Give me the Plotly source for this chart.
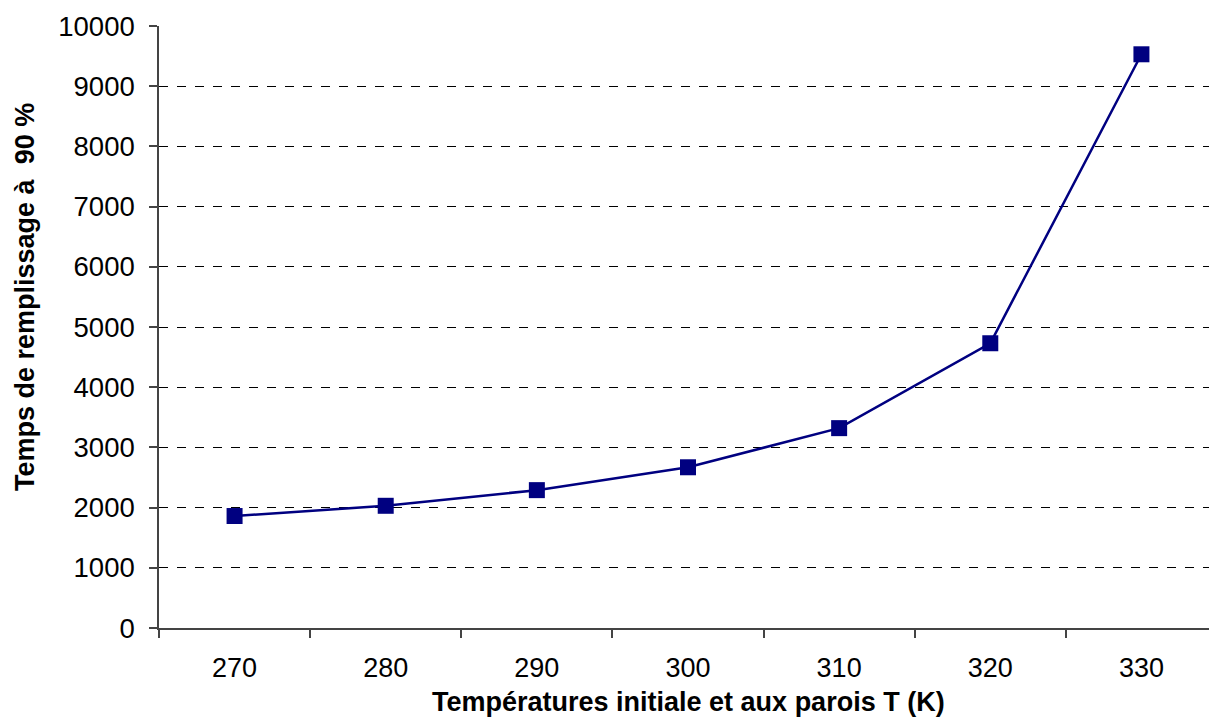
import plotly.graph_objects as go

temperatures = ["270", "280", "290", "300", "310", "320", "330"]
fill_times = [1860, 2030, 2290, 2670, 3320, 4730, 9530]
y_ticks = [0, 1000, 2000, 3000, 4000, 5000, 6000, 7000, 8000, 9000, 10000]
x_title = "Températures initiale et aux parois T (K)"
y_title = "Temps de remplissage à  90 %"

fig = go.Figure()
fig.add_trace(go.Scatter(
    x=temperatures, y=fill_times, mode="lines+markers",
    line=dict(color="#000080", width=2.5),
    marker=dict(symbol="square", size=16, color="#000080"),
    showlegend=False,
))

font_family = "Liberation Sans, Arial, sans-serif"
# page body has an 8px margin: compensate so plot area lands at x 159..1217, y 26..628
W, H = 1209, 712
L, T, B, R = 151, 18, 92, 0
fig.update_layout(
    width=W, height=H,
    margin=dict(l=L, r=R, t=T, b=B, autoexpand=False),
    paper_bgcolor="white", plot_bgcolor="white",
    font=dict(family=font_family, color="black", size=27),
)
fig.update_xaxes(
    type="category", range=[-0.5, 6.5], tickson="boundaries",
    ticks="outside", ticklen=8, tickcolor="#444", tickwidth=1.5,
    showline=True, linecolor="#444", linewidth=1.5,
    showgrid=False, tickfont=dict(size=27), ticklabelstandoff=15,
    automargin=False,
)
fig.update_yaxes(
    range=[0, 10000], tickvals=y_ticks, tickformat="d",
    ticks="outside", ticklen=8, tickcolor="#444", tickwidth=1.5,
    showline=True, linecolor="#444", linewidth=1.5,
    showgrid=True, gridcolor="black", griddash="dash", gridwidth=1,
    zeroline=False, tickfont=dict(size=27.5), ticklabelstandoff=9,
    automargin=False,
)

pw = W - L - R
ph = H - T - B
fig.add_annotation(
    text="<b>" + x_title + "</b>", xref="paper", yref="paper",
    x=0.5, y=-(702 - 8 - (T + ph)) / ph, xanchor="center", yanchor="middle",
    showarrow=False, font=dict(size=27),
)
fig.add_annotation(
    text="<b>" + y_title + "</b>", xref="paper", yref="paper",
    x=(25 - 8 - L) / pw, y=(T + ph - (297 - 8)) / ph,
    xanchor="center", yanchor="middle", textangle=-90,
    showarrow=False, font=dict(size=27),
)

fig.write_html("out.html")
